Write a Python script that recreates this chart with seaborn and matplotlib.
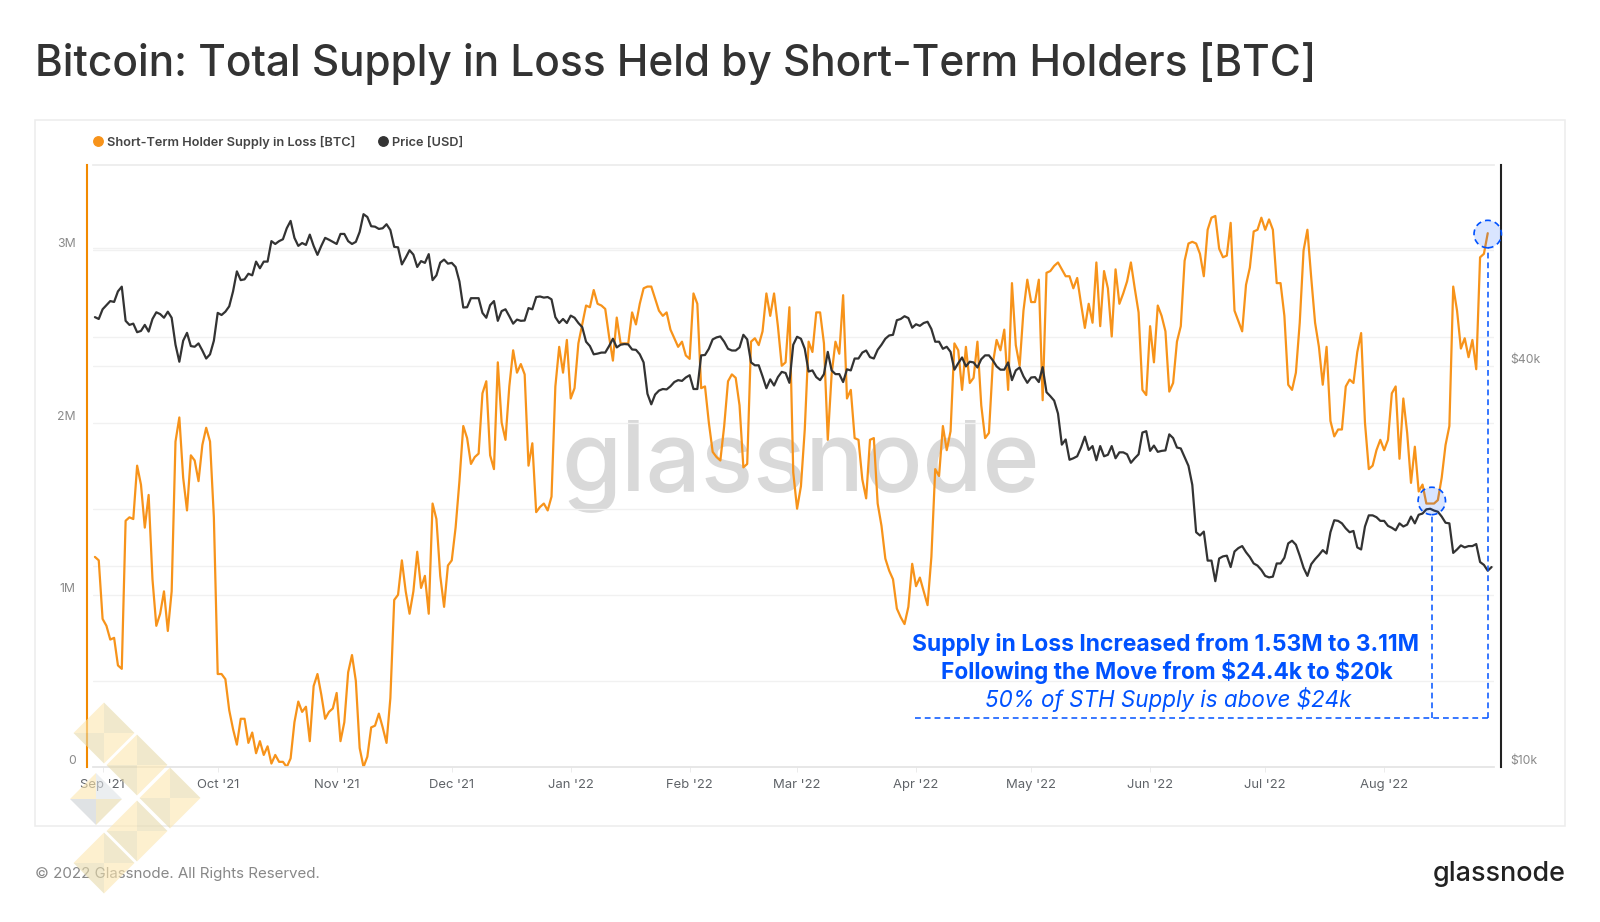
import pandas as pd
import numpy as np
import seaborn as sns
import matplotlib.pyplot as plt
import matplotlib.dates as mdates
from matplotlib.lines import Line2D
from matplotlib.patches import Polygon, Rectangle

# values, one per day
supply_m = [
    1.22, 1.20, 0.86, 0.82, 0.74, 0.75, 0.59, 0.57, 1.43, 1.45, 1.44, 1.75, 1.64, 1.39, 1.58, 1.09, 0.82, 0.89, 1.02, 0.79,
    1.02, 1.89, 2.03, 1.68, 1.49, 1.81, 1.78, 1.66, 1.87, 1.97, 1.89, 1.45, 0.54, 0.54, 0.51, 0.33, 0.22, 0.13, 0.28, 0.28,
    0.14, 0.20, 0.08, 0.15, 0.07, 0.12, 0.02, 0.07, 0.03, 0.03, 0.00, 0.05, 0.26, 0.38, 0.32, 0.35, 0.15, 0.47, 0.54, 0.42,
    0.28, 0.32, 0.34, 0.43, 0.15, 0.26, 0.55, 0.65, 0.50, 0.11, 0.00, 0.06, 0.23, 0.24, 0.31, 0.23, 0.14, 0.40, 0.97, 1.00,
    1.20, 1.02, 0.89, 1.02, 1.25, 1.04, 1.11, 0.89, 1.53, 1.44, 1.11, 0.93, 1.17, 1.20, 1.39, 1.66, 1.98, 1.91, 1.76, 1.80,
    1.82, 2.17, 2.24, 1.81, 1.73, 2.35, 2.00, 1.90, 2.21, 2.42, 2.29, 2.34, 2.28, 1.75, 1.88, 1.48, 1.51, 1.53, 1.49, 1.57,
    2.21, 2.44,
    2.29, 2.48, 2.14, 2.20, 2.46, 2.57, 2.68, 2.67, 2.77, 2.69, 2.68, 2.66, 2.50, 2.36, 2.61, 2.46, 2.46, 2.46, 2.64, 2.57,
    2.69, 2.78, 2.79, 2.79, 2.72, 2.65, 2.62, 2.64, 2.54, 2.49, 2.44, 2.47, 2.39, 2.37, 2.75, 2.69, 2.20, 2.21, 2.00, 1.83,
    1.80, 1.78, 1.98, 2.24, 2.28, 2.26, 2.10, 1.74, 1.76, 2.47, 2.49, 2.45, 2.53, 2.75, 2.62, 2.75, 2.56, 2.33, 2.35, 2.67,
    1.71, 1.50, 1.63, 1.96, 2.47, 2.41, 2.64, 2.64, 2.46, 1.90, 2.28, 2.47, 2.40, 2.74, 2.14, 2.19, 1.91, 1.90, 1.67, 1.56,
    1.90, 1.91, 1.53, 1.40, 1.21, 1.14, 1.09, 0.92, 0.87, 0.83, 0.93, 1.18, 1.05, 1.10, 1.02, 0.94, 1.22, 1.73, 1.69, 1.98,
    1.84, 1.95, 2.46, 2.42, 2.19, 2.44, 2.23, 2.26, 2.47, 2.10, 1.91, 1.94, 2.34, 2.48, 2.42, 2.54, 2.19, 2.81, 2.45, 2.33,
    2.65, 2.83, 2.70, 2.70, 2.83, 2.13, 2.87, 2.88, 2.91, 2.93, 2.89, 2.85, 2.85, 2.78, 2.84, 2.69, 2.55, 2.69, 2.58, 2.93,
    2.56, 2.88, 2.78, 2.50, 2.89, 2.69, 2.75, 2.82, 2.93, 2.78, 2.64, 2.19, 2.16, 2.56, 2.35, 2.68, 2.62, 2.53, 2.18, 2.23,
    2.47, 2.56, 2.94, 3.04, 3.05, 3.04, 2.98, 2.85, 3.12, 3.19, 3.20, 3.01, 2.96, 2.97, 3.16, 2.65, 2.59, 2.53, 2.80, 2.90,
    3.11, 3.12, 3.19, 3.12, 3.18, 3.12, 2.81, 2.81, 2.62, 2.22, 2.19, 2.29, 2.58, 3.00, 3.12, 2.84, 2.58, 2.44, 2.22, 2.44,
    2.01, 1.92, 1.96, 1.96, 2.21, 2.25, 2.23, 2.41, 2.52, 2.00, 1.73, 1.75, 1.84, 1.90, 1.84, 1.90, 2.17, 2.21, 1.79, 2.14,
    1.94, 1.65, 1.86, 1.60, 1.64, 1.53, 1.53, 1.53, 1.55, 1.68, 1.87, 1.98, 2.79, 2.65, 2.43, 2.49, 2.38, 2.48, 2.31, 2.96,
    2.98, 3.10,
]

price_k = [
    47.3, 47.0, 48.6, 49.3, 50.0, 49.85, 51.7, 52.55, 46.7, 46.05, 46.25, 44.9, 45.1, 46.05, 45.0, 47.0, 48.1, 47.8, 47.2, 48.2,
    47.2, 43.0, 40.55, 43.6, 44.8, 42.8, 42.7, 43.2, 42.15, 41.0, 41.6, 43.6, 48.0, 47.65, 48.2, 49.1, 51.7, 55.4, 53.75, 53.9,
    54.95, 54.65, 57.3, 56.0, 57.3, 57.3, 61.5, 60.9, 61.5, 61.9, 64.3, 65.95, 62.2, 60.5, 61.1, 60.7, 62.9, 60.5, 58.65, 60.5,
    62.2, 61.8, 61.35, 60.9, 63.05, 63.05, 61.5, 60.9, 61.35, 63.5, 67.5, 66.85, 64.75, 64.65, 64.15, 64.3, 65.2, 63.9, 60.3, 60.2,
    56.75, 58.1, 59.6, 58.7, 56.25, 57.4, 57.05, 58.8, 53.75, 54.65, 57.1, 57.7, 56.9, 57.05, 56.25, 53.5, 48.9, 48.95, 50.5, 50.5,
    50.5, 48.0, 47.2, 49.3, 50.0, 46.7, 48.3, 48.6, 47.45, 46.25, 46.9, 46.7, 46.75, 48.8, 48.6, 50.7, 50.8, 50.6, 50.7, 50.3,
    47.3, 46.35,
    47.0, 46.35, 47.55, 47.2, 46.35, 45.7, 43.45, 42.8, 41.6, 41.7, 41.85, 41.85, 42.8, 43.9, 42.6, 43.0, 43.1, 43.05, 42.3, 42.25,
    41.6, 40.45, 36.3, 35.0, 36.2, 36.7, 36.9, 36.85, 37.25, 37.8, 38.05, 37.95, 38.4, 38.7, 36.9, 36.9, 41.45, 41.5, 42.4, 43.8,
    44.1, 44.25, 43.45, 42.4, 42.15, 42.15, 42.6, 44.5, 43.8, 40.45, 40.05, 40.05, 38.55, 37.0, 38.15, 37.35, 38.45, 39.15, 39.0, 37.7,
    43.0, 44.2, 43.9, 42.4, 39.2, 39.35, 38.45, 38.05, 38.85, 41.95, 39.35, 38.85, 38.85, 37.8, 39.5, 39.35, 41.0, 41.0, 41.85, 42.15,
    41.2, 41.0, 42.25, 43.0, 43.9, 44.4, 44.5, 46.8, 47.0, 47.45, 47.15, 45.6, 46.15, 45.9, 46.35, 46.55, 45.4, 43.45, 43.45, 42.4,
    42.7, 41.95, 39.45, 40.35, 41.15, 39.9, 40.55, 40.45, 39.75, 40.9, 41.45, 41.45, 40.75, 39.9, 39.45, 39.45, 40.45, 38.05, 39.35, 39.75,
    38.55, 37.7, 38.4, 38.45, 37.8,
    39.8, 36.5, 36.0, 35.45, 33.9, 30.45, 31.0, 28.9, 29.05, 29.25, 30.15, 31.3, 29.9, 30.3, 28.85, 30.3, 29.25, 29.4, 30.3, 29.05,
    29.65, 29.65, 29.45, 28.6, 29.05, 29.45, 31.75, 31.9, 29.8, 30.35, 29.7, 29.8, 29.85, 31.55, 31.15, 30.15, 30.05, 29.15, 28.3, 26.5,
    22.5, 22.25, 22.55, 20.4, 20.4, 19.0, 20.55, 20.7, 20.75, 19.95, 21.05, 21.3, 21.45, 21.0, 20.65, 20.2, 20.05, 19.75, 19.35, 19.25,
    19.3, 20.2, 20.2, 20.6, 21.65, 21.85, 21.55, 20.75, 19.9, 19.35, 20.15, 20.5, 20.8, 21.15, 20.9, 22.5, 23.45, 23.4, 23.2, 22.8,
    22.5, 22.6, 21.35, 21.2, 22.95, 23.85, 23.85, 23.7, 23.4, 23.4, 23.0, 22.85, 22.65, 23.2, 22.95, 23.1, 23.75, 23.2, 23.9, 24.0,
    24.35, 24.4, 24.25, 24.15, 23.75, 23.25, 23.2, 20.95, 21.2, 21.5, 21.35, 21.45, 21.45, 21.6, 20.3, 20.1, 19.7, 19.95,
]

left_ticks = [0, 1, 2, 3]
left_labels = ['0', '1M', '2M', '3M']
left_minor = [0.5, 1.5, 2.5]
right_ticks = [10, 40]
right_labels = [r'\$10k', r'\$40k']
right_grid = [20, 40, 60]

low_date = '2022-08-13 10:00'
high_date = '2022-08-28 00:00'
low_value = 1.545
high_value = 3.095

ORANGE = '#f7931a'
DARK = '#333333'
BLUE = '#0052ff'
FONT = 'Inter'

sns.set_theme(style='white')
plt.rcParams['font.family'] = [FONT, 'DejaVu Sans']
plt.rcParams['ytick.alignment'] = 'bottom'

start = pd.Timestamp('2021-08-30')
supply_df = pd.DataFrame({'date': pd.date_range(start, periods=len(supply_m)), 'supply': supply_m})
price_df = pd.DataFrame({'date': pd.date_range(start, periods=len(price_k)), 'price': price_k})


def fx(x):
    return x / 1600


def fy(y):
    return 1 - y / 922


fig = plt.figure(figsize=(16, 9.22), dpi=100, facecolor='white')
ax = fig.add_axes([fx(93), fy(767), (1493.5 - 93) / 1600, (767 - 165) / 922])
ax.patch.set_visible(False)

# panel border and big watermark sit behind the axes
fig.add_artist(Rectangle((fx(35), fy(826)), 1530 / 1600, 706 / 922, transform=fig.transFigure,
                         fill=False, ec='#ececec', lw=1.1, zorder=-2))
fig.text(fx(801), fy(490), 'glassnode', fontsize=70, color='#d9d9d9', ha='center', va='baseline',
         fontweight='medium', zorder=-1)

sns.lineplot(data=supply_df, x='date', y='supply', ax=ax, color=ORANGE, lw=1.6, estimator=None, legend=False)
ax.set_xlabel('')
ax.set_ylabel('')
ymax = 3.496
ax.set_ylim(0, ymax)
ax.set_xlim(pd.Timestamp('2021-08-29 12:00'), pd.Timestamp('2022-08-29 12:00'))

ax.set_yticks(left_ticks, left_labels)
ax.tick_params(axis='y', length=0, pad=8, labelsize=8.8, labelcolor='#8a8a8a')
ax.xaxis.set_major_locator(mdates.MonthLocator())
ax.xaxis.set_major_formatter(mdates.DateFormatter("%b '%y"))
ax.tick_params(axis='x', length=3.5, width=0.7, color='#ececec', pad=5, labelsize=9.4, labelcolor='#5f6368', bottom=True)

ax.yaxis.grid(True, color='#f1f1f1', lw=1)
ax.set_axisbelow(True)
for v in left_minor:
    ax.axhline(v, color='#f1f1f1', lw=1, zorder=0.5)
for p in right_grid:
    ax.axhline(np.log(p / 10) / np.log(8) * ymax, color='#f1f1f1', lw=1, zorder=0.5)

ax.spines['top'].set_color('#ececec')
ax.spines['right'].set_visible(False)
ax.spines['bottom'].set_color('#e4e4e4')
ax.spines['left'].set_color('#f28a00')
ax.spines['left'].set_linewidth(1.5)
ax.spines['left'].set_position(('outward', 4.5))

ax2 = ax.twinx()
ax2.patch.set_visible(False)
sns.lineplot(data=price_df, x='date', y='price', ax=ax2, color=DARK, lw=1.6, estimator=None, legend=False)
ax2.set_yscale('log')
ax2.set_ylim(10, 80)
ax2.set_ylabel('')
ax2.set_yticks(right_ticks, right_labels)
ax2.minorticks_off()
ax2.tick_params(axis='y', length=0, pad=7, labelsize=8.8, labelcolor='#8a8a8a')
for side in ['top', 'left', 'bottom']:
    ax2.spines[side].set_visible(False)
ax2.spines['right'].set_color('#222222')
ax2.spines['right'].set_linewidth(1.5)
ax2.spines['right'].set_position(('outward', 5.4))

# annotation marks, on the supply scale but above both lines
low_x = pd.Timestamp(low_date)
high_x = pd.Timestamp(high_date)
base_y = 0.285
dash = dict(color=BLUE, lw=1.1, ls=(0, (3.8, 2.6)), transform=ax.transData, zorder=6)
ax2.plot([pd.Timestamp('2022-03-31 16:00'), high_x], [base_y, base_y], **dash)
ax2.plot([low_x, low_x], [base_y, low_value - 0.075], **dash)
ax2.plot([high_x, high_x], [base_y, high_value - 0.075], **dash)
ax2.scatter([low_x, high_x], [low_value, high_value], s=390, transform=ax.transData, zorder=7, clip_on=False,
            facecolor=(0.0, 0.32, 1.0, 0.15), edgecolor=BLUE, linewidth=1.2, linestyle=(0, (3.5, 2.5)))
ax2.set_ylim(10, 80)
ax2.set_xlim(ax.get_xlim())

fig.text(fx(1166), fy(644), 'Supply in Loss Increased from 1.53M to 3.11M', color=BLUE, fontsize=16.5,
         fontweight='bold', ha='center', va='center', zorder=10)
fig.text(fx(1167), fy(671), r'Following the Move from \$24.4k to \$20k', color=BLUE, fontsize=16.4,
         fontweight='bold', ha='center', va='center', zorder=10)
fig.text(fx(1168), fy(699), r'50% of STH Supply is above \$24k', color=BLUE, fontsize=16.15,
         fontstyle='italic', ha='center', va='center', zorder=10)

# title, footer and logo text
fig.text(fx(35), fy(64), 'Bitcoin: Total Supply in Loss Held by Short-Term Holders [BTC]', fontsize=30.5,
         color='#333333', fontweight='medium', ha='left', va='center')
fig.text(fx(35), fy(874), '\u00a9 2022 Glassnode. All Rights Reserved.', fontsize=10.9, color='#888888',
         ha='left', va='center')
fig.text(fx(1566), fy(881), 'glassnode', fontsize=19.4, color='#222222', fontweight='medium', ha='right', va='baseline')

handles = [Line2D([], [], marker='o', ls='', color=ORANGE, ms=6.8),
           Line2D([], [], marker='o', ls='', color=DARK, ms=6.8)]
fig.legend(handles, ['Short-Term Holder Supply in Loss [BTC]', 'Price [USD]'], loc='center left',
           bbox_to_anchor=(fx(79.7), fy(142)), ncol=2, frameon=False, handlelength=1.0, handletextpad=0.26,
           columnspacing=1.6, prop={'size': 9.2, 'weight': 'semibold'}, labelcolor='#444444')

# chevron logo, drawn in pixels over everything
diamonds = [(104, 733, 30.5), (137, 765, 30.5), (170, 798, 30.5), (137, 831, 30.5), (104, 863, 30.5)]
cream = '#fce6af'
tan = '#e6d9aa'


def add_diamond(cx, cy, r, colours):
    top, right, bottom, left = (cx, cy - r), (cx + r, cy), (cx, cy + r), (cx - r, cy)
    for pair, col in zip([(left, top), (top, right), (left, bottom), (bottom, right)], colours):
        tri = [(fx(p[0]), fy(p[1])) for p in [pair[0], pair[1], (cx, cy)]]
        fig.add_artist(Polygon(tri, closed=True, transform=fig.transFigure, fc=col, ec='none', alpha=0.6, zorder=12))


for cx, cy, r in diamonds:
    add_diamond(cx, cy, r, [cream, tan, tan, cream])
add_diamond(96, 799, 26, [cream, '#dfe3e6', '#cbcfd2', tan])

fig.savefig('out.png', dpi=100)
